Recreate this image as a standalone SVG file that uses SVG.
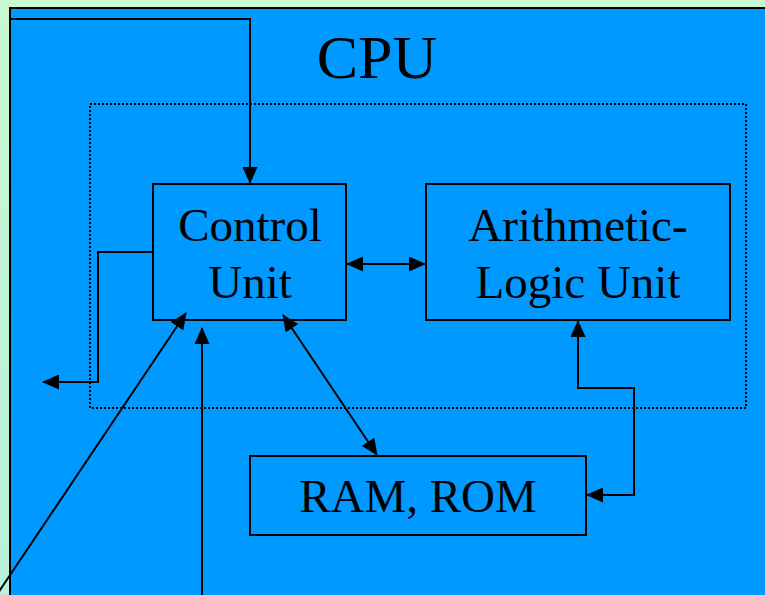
<svg xmlns="http://www.w3.org/2000/svg" width="765" height="595" viewBox="0 0 765 595">
<defs>
<linearGradient id="bg" x1="0" y1="0" x2="0" y2="1">
<stop offset="0" stop-color="#c8f8d2"/>
<stop offset="1" stop-color="#b8f0dc"/>
</linearGradient>
<marker id="ah" viewBox="0 0 17 15" refX="16" refY="7.5" markerWidth="17" markerHeight="15" markerUnits="userSpaceOnUse" orient="auto-start-reverse">
<path d="M0,0 L17,7.5 L0,15 Z" fill="#000"/>
</marker>
<style>
.box{fill:#0099ff;stroke:#000;stroke-width:2}
.lbl{font-family:"Liberation Serif","Times New Roman",serif;fill:#000;text-anchor:middle}
.ln{fill:none;stroke:#000;stroke-width:2}
</style>
</defs>
<rect x="0" y="0" width="765" height="595" fill="url(#bg)"/>
<rect x="10" y="8" width="770" height="600" fill="#0099ff" stroke="#000" stroke-width="2"/>
<text class="lbl" x="377" y="78" font-size="62">CPU</text>
<rect id="cpu-boundary" x="90" y="104" width="656" height="304" fill="none" stroke="#000" stroke-width="2" stroke-dasharray="2,2"/>
<g id="control-unit">
<rect class="box" x="153" y="184" width="193" height="136"/>
<text class="lbl" x="250" y="241" font-size="47">Control</text>
<text class="lbl" x="250" y="298" font-size="47">Unit</text>
</g>
<g id="alu">
<rect class="box" x="426" y="184" width="304" height="136"/>
<text class="lbl" x="578" y="241" font-size="47">Arithmetic-</text>
<text class="lbl" x="578" y="298" font-size="47">Logic Unit</text>
</g>
<g id="ram-rom">
<rect class="box" x="250" y="456" width="336" height="79"/>
<text class="lbl" x="418" y="512" font-size="47">RAM, ROM</text>
</g>
<g id="connectors">
<polyline class="ln" points="10,19 250,19 250,183" marker-end="url(#ah)"/>
<polyline class="ln" points="153,252 98,252 98,382 43,382" marker-end="url(#ah)"/>
<line class="ln" x1="-4" y1="596" x2="186" y2="313" marker-end="url(#ah)"/>
<line class="ln" x1="202" y1="596" x2="202" y2="328" marker-end="url(#ah)"/>
<line class="ln" x1="347" y1="264" x2="425" y2="264" marker-start="url(#ah)" marker-end="url(#ah)"/>
<line class="ln" x1="283" y1="315" x2="377" y2="455" marker-start="url(#ah)" marker-end="url(#ah)"/>
<polyline class="ln" points="578,321 578,388 634,388 634,495 587,495" marker-start="url(#ah)" marker-end="url(#ah)"/>
</g>
</svg>
